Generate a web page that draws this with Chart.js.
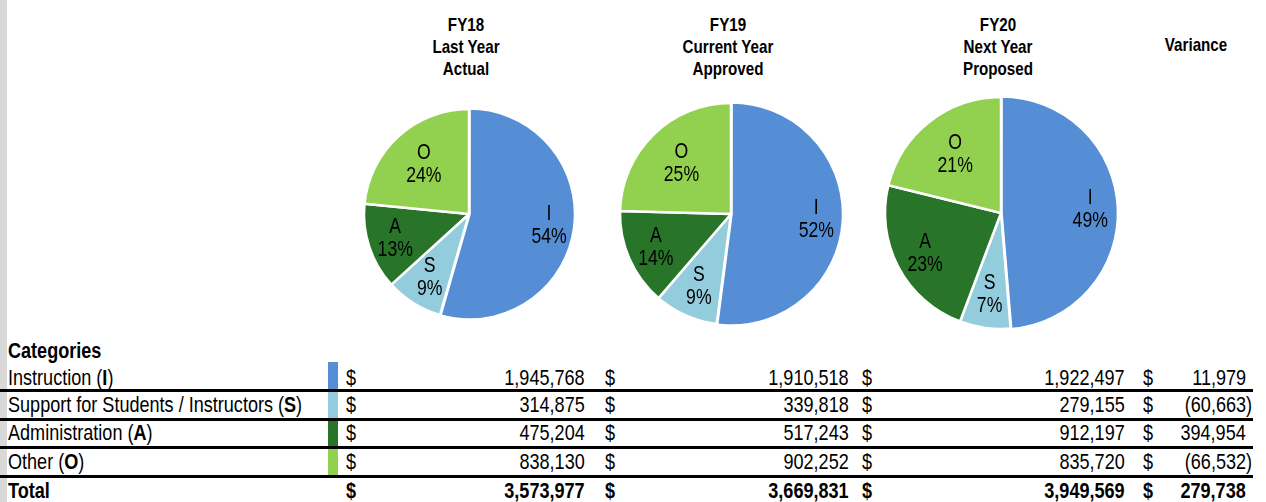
<!DOCTYPE html>
<html>
<head>
<meta charset="utf-8">
<script src="https://cdn.jsdelivr.net/npm/chart.js@4.4.1/dist/chart.umd.min.js"></script>
<style>
  html, body { margin: 0; padding: 0; background: #fff; }
  body {
    width: 1266px; height: 502px; position: relative; overflow: hidden;
    font-family: "Liberation Sans", Arial, sans-serif;
    color: #000;
  }
  .strip { position: absolute; left: 0; top: 0; width: 7px; height: 502px; background: #d9d9d9; }
  /* no narrow font installed, so squeeze Liberation Sans to Arial Narrow width */
  .head {
    position: absolute; width: 240px; text-align: center; font-weight: bold;
    font-size: 18.5px; line-height: 22px;
    transform: scaleX(0.82); transform-origin: center;
  }
  .pie { position: absolute; }
  .t { position: absolute; font-size: 21.5px; line-height: 28px; white-space: nowrap; transform: scaleX(0.84); }
  .bold { font-weight: bold; }
  .rule { position: absolute; left: 0; width: 1253px; height: 3px; background: #000; }
  .swatch { position: absolute; left: 328px; width: 10px; }
</style>
</head>
<body>
<div class="strip"></div>
<script>
// data
const categories = ['Instruction', 'Support for Students / Instructors', 'Administration', 'Other']
const codes = ['I', 'S', 'A', 'O']
const colors = ['#558ED5', '#93CDDD', '#287529', '#92D050']
const years = ['FY18', 'FY19', 'FY20']
const yearNotes = [['Last Year', 'Actual'], ['Current Year', 'Approved'], ['Next Year', 'Proposed']]
const fy18 = [1945768, 314875, 475204, 838130]
const fy19 = [1910518, 339818, 517243, 902252]
const fy20 = [1922497, 279155, 912197, 835720]
const variance = [11979, -60663, 394954, -66532]
const totals = [3573977, 3669831, 3949569, 279738]
const fy18Pct = [54, 9, 13, 24]
const fy19Pct = [52, 9, 14, 25]
const fy20Pct = [49, 7, 23, 21]

// layout
const pies = [
  { cx: 469, cy: 214, r: 105, values: fy18, pct: fy18Pct },
  { cx: 731, cy: 214, r: 111, values: fy19, pct: fy19Pct },
  { cx: 1001, cy: 213, r: 116, values: fy20, pct: fy20Pct },
]
const labelDepth = [0.77, 0.71, 0.74, 0.64]
const rowY = [377.5, 404.5, 433, 462]
const totalY = 490.5
const ruleTops = [389, 418, 446, 475]
const swatchEdges = [362, 390, 419, 447, 476]
const SQUEEZE = 0.82

const body = document.body

function addDiv(cls, style, html) {
  const d = document.createElement('div')
  d.className = cls
  Object.assign(d.style, style)
  if (html !== undefined) d.innerHTML = html
  body.appendChild(d)
  return d
}

// text left-aligned at x, or right-aligned ending at x
function addText(html, x, yc, align, bold) {
  const style = { top: (yc - 14) + 'px' }
  if (align === 'right') {
    style.right = (1266 - x) + 'px'
    style.transformOrigin = 'right center'
  } else {
    style.left = x + 'px'
    style.transformOrigin = 'left center'
  }
  addDiv('t' + (bold ? ' bold' : ''), style, html)
}

const fmt = v => v < 0 ? '(' + Math.abs(v).toLocaleString('en-US') + ')' : v.toLocaleString('en-US')

// headers
pies.forEach((p, i) => {
  addDiv('head', { left: (p.cx - 123) + 'px', top: '14px' }, [years[i]].concat(yearNotes[i]).join('<br>'))
})
addDiv('head', { left: '1076px', top: '34px' }, 'Variance')

// slice labels: letter + percent
function makeSliceLabels(pct) {
  return {
    id: 'sliceLabels',
    afterDatasetsDraw(chart) {
      const ctx = chart.ctx
      const meta = chart.getDatasetMeta(0)
      meta.data.forEach((arc, i) => {
        const { x, y, startAngle, endAngle, outerRadius } =
          arc.getProps(['x', 'y', 'startAngle', 'endAngle', 'outerRadius'], true)
        const mid = (startAngle + endAngle) / 2
        const d = outerRadius * labelDepth[i]
        ctx.save()
        ctx.translate(x + Math.cos(mid) * d, y + Math.sin(mid) * d)
        ctx.scale(SQUEEZE, 1)
        ctx.font = '21.5px "Liberation Sans", Arial, sans-serif'
        ctx.fillStyle = '#000'
        ctx.textAlign = 'center'
        ctx.textBaseline = 'middle'
        ctx.fillText(codes[i], 0, -11)
        ctx.fillText(pct[i] + '%', 0, 12)
        ctx.restore()
      })
    }
  }
}

pies.forEach(p => {
  const size = 2 * p.r + 12
  const box = addDiv('pie', {
    left: (p.cx - size / 2) + 'px', top: (p.cy - size / 2) + 'px',
    width: size + 'px', height: size + 'px'
  })
  const canvas = document.createElement('canvas')
  box.appendChild(canvas)
  new Chart(canvas.getContext('2d'), {
    type: 'pie',
    data: {
      labels: codes,
      datasets: [{
        data: p.values,
        backgroundColor: colors,
        borderColor: '#ffffff',
        borderWidth: 2.5,
        offset: [2, 0, 0, 0],
        radius: p.r,
      }]
    },
    options: {
      responsive: true,
      maintainAspectRatio: false,
      animation: false,
      events: [],
      layout: { padding: 0 },
      plugins: { legend: { display: false }, tooltip: { enabled: false } }
    },
    plugins: [makeSliceLabels(p.pct)]
  })
})

// table
addText('Categories', 8, 350.5, 'left', true)

for (let i = 0; i < 4; i++) {
  addDiv('swatch', {
    top: swatchEdges[i] + 'px',
    height: (swatchEdges[i + 1] - swatchEdges[i]) + 'px',
    background: colors[i]
  })
}

categories.forEach((c, i) => {
  const y = rowY[i]
  addText(c + ' (<b>' + codes[i] + '</b>)', 8, y)
  addText('$', 346, y)
  addText(fmt(fy18[i]), 585, y, 'right')
  addText('$', 605, y)
  addText(fmt(fy19[i]), 849, y, 'right')
  addText('$', 862, y)
  addText(fmt(fy20[i]), 1125, y, 'right')
  addText('$', 1143, y)
  addText(fmt(variance[i]), variance[i] < 0 ? 1252 : 1246, y, 'right')
})

addText('Total', 8, totalY, 'left', true)
addText('$', 346, totalY, 'left', true)
addText(fmt(totals[0]), 585, totalY, 'right', true)
addText('$', 605, totalY, 'left', true)
addText(fmt(totals[1]), 849, totalY, 'right', true)
addText('$', 862, totalY, 'left', true)
addText(fmt(totals[2]), 1125, totalY, 'right', true)
addText('$', 1143, totalY, 'left', true)
addText(fmt(totals[3]), 1246, totalY, 'right', true)

ruleTops.forEach(t => addDiv('rule', { top: t + 'px' }))
</script>
</body>
</html>
